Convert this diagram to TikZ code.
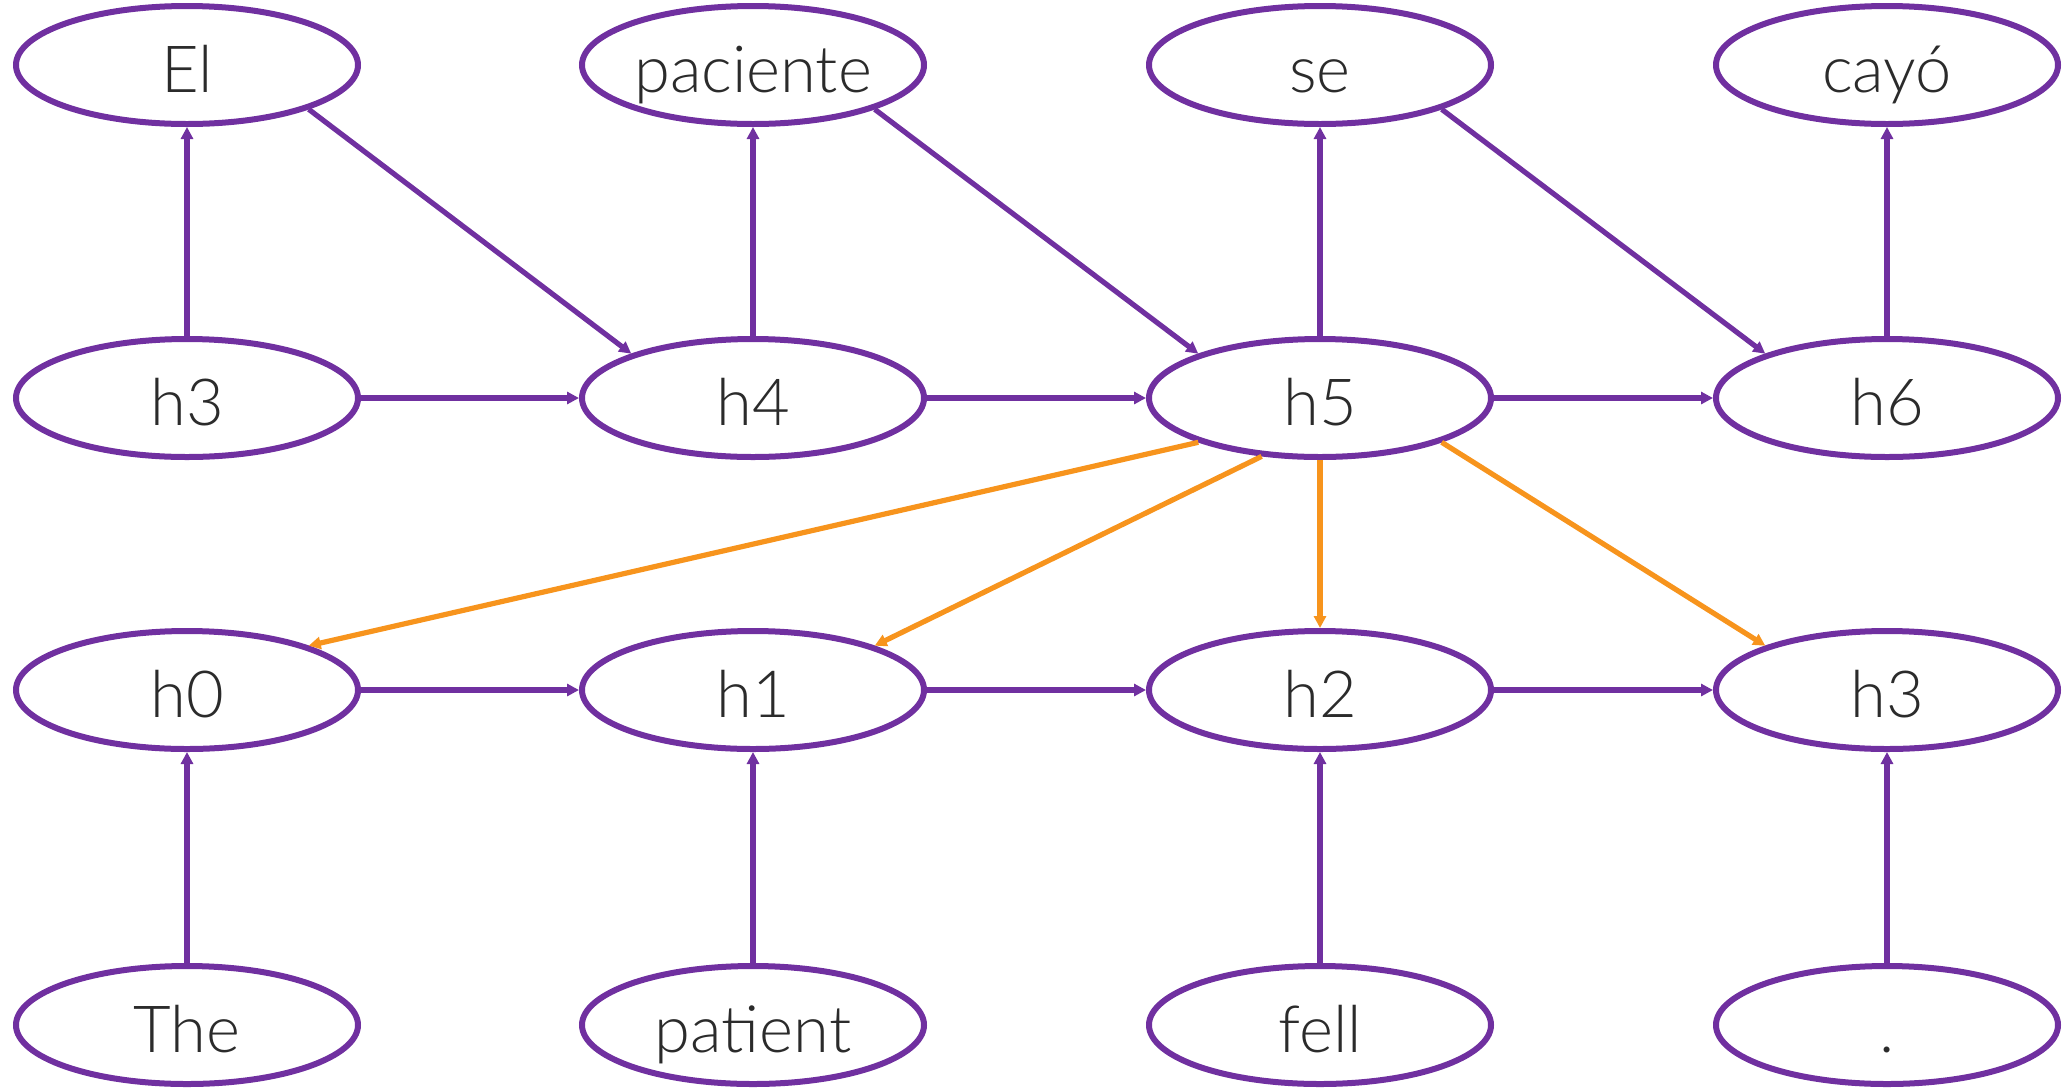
\documentclass[tikz,border=0pt]{standalone}
\usepackage{fontspec}
\setmainfont{Lato}[UprightFont=* Light]
\usetikzlibrary{arrows.meta,shapes.geometric}
\definecolor{pur}{HTML}{7030A0}
\definecolor{org}{HTML}{F7941D}
\definecolor{txt}{HTML}{2B2B2B}
\begin{document}
\begin{tikzpicture}[x=1pt,y=-1pt,
  wnode/.style={ellipse, draw=pur, line width=6pt, minimum width=342pt, minimum height=118pt,
     inner sep=0pt, text height=54pt, text depth=0pt, text=txt,
     font=\fontsize{65}{78}\selectfont},
  pline/.style={draw=pur, line width=5.2pt, -{Triangle[length=12pt,width=12pt]}},
  oline/.style={draw=org, line width=5.2pt, -{Triangle[length=12pt,width=12pt]}}]
\useasboundingbox (0,0) rectangle (2065,1088);
% rows
\foreach \n/\t/\x in {a/El/187, b/paciente/753, c/se/1320, d/cayó/1887}
  \node[wnode] (t\n) at (\x,65) {\t};
\node[wnode] (u3) at (187,398) {h3};
\node[wnode] (u4) at (753,398) {h4};
\node[wnode] (u5) at (1320,398) {h5};
\node[wnode] (u6) at (1887,398) {h6};
\node[wnode] (e0) at (187,690) {h0};
\node[wnode] (e1) at (753,690) {h1};
\node[wnode] (e2) at (1320,690) {h2};
\node[wnode] (e3) at (1887,690) {h3};
\node[wnode] (sa) at (187,1025) {The};
\node[wnode] (sb) at (753,1025) {patient};
\node[wnode] (sc) at (1320,1025) {fell};
\node[wnode] (sd) at (1887,1025) {.};
% bottom to encoder
\draw[pline] (sa) -- (e0);
\draw[pline] (sb) -- (e1);
\draw[pline] (sc) -- (e2);
\draw[pline] (sd) -- (e3);
% encoder chain
\draw[pline] (e0) -- (e1);
\draw[pline] (e1) -- (e2);
\draw[pline] (e2) -- (e3);
% decoder chain
\draw[pline] (u3) -- (u4);
\draw[pline] (u4) -- (u5);
\draw[pline] (u5) -- (u6);
% decoder to outputs
\draw[pline] (u3) -- (ta);
\draw[pline] (u4) -- (tb);
\draw[pline] (u5) -- (tc);
\draw[pline] (u6) -- (td);
% outputs fed back
\draw[pline] (ta.-20) -- (u4.160);
\draw[pline] (tb.-20) -- (u5.160);
\draw[pline] (tc.-20) -- (u6.160);
% attention
\draw[oline] (u5.200) -- (e0.20);
\draw[oline] (u5.225) -- (e1.20);
\draw[oline] (u5) -- (e2);
\draw[oline] (u5.-20) -- (e3.160);
\end{tikzpicture}
\end{document}
